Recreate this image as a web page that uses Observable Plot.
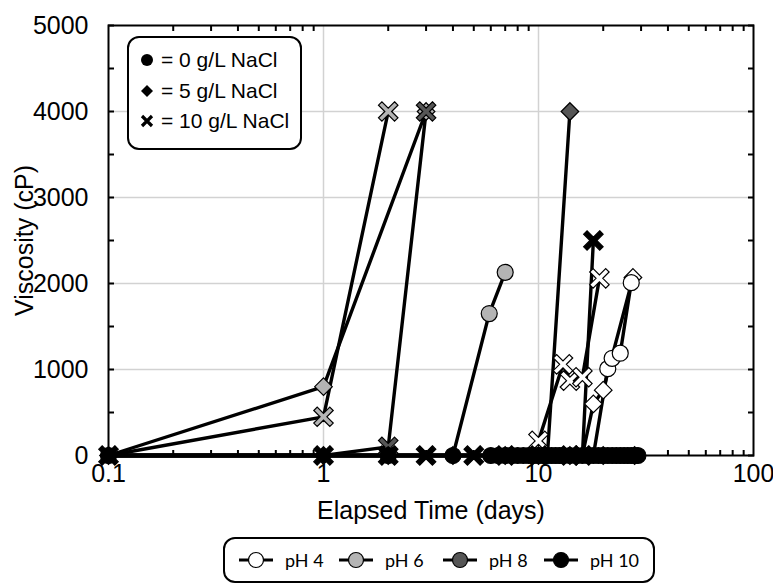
<!DOCTYPE html>
<html><head><meta charset="utf-8">
<script src="https://cdn.jsdelivr.net/npm/d3@7"></script>
<script src="https://cdn.jsdelivr.net/npm/@observablehq/plot@0.6"></script>
<style>
body{margin:0;background:#fff;font-family:"Liberation Sans",Arial,sans-serif;color:#000;}
#wrap{position:relative;width:773px;height:587px;overflow:hidden;}
#wrap svg.plot{position:absolute;left:0;top:0;}
.box{position:absolute;border:2px solid #000;border-radius:12px;background:#fff;box-sizing:border-box;}
#saltLegend{left:127px;top:36px;width:175px;height:114px;}
#saltLegend .row{position:absolute;left:10px;height:24px;display:flex;align-items:center;font-size:21px;white-space:nowrap;}
#saltLegend .row svg{margin-right:6px;}
#phLegend{left:223px;top:537px;width:432px;height:46px;}
#phLegend .item{position:absolute;top:8px;height:26px;display:flex;align-items:center;font-family:Lato,"Open Sans",sans-serif;font-size:18px;white-space:nowrap;}
#phLegend .item svg{margin-right:11px;}
</style></head><body><div id="wrap"></div>
<script>
// ---- data (elapsed days, viscosity cP) ----
const phLevels = ["pH 4", "pH 6", "pH 8", "pH 10"];
const phFills = ["#ffffff", "#b4b4b4", "#565656", "#000000"];
const saltLabels = ["= 0 g/L NaCl", "= 5 g/L NaCl", "= 10 g/L NaCl"];
const xTickValues = [0.1, 1, 10, 100];
const xTickLabels = ["0.1", "1", "10", "100"];
const yTickValues = [0, 1000, 2000, 3000, 4000, 5000];

// pH 4
const ph4_salt0_days = [0.1, 1, 2, 4, 7, 9, 11, 14, 16, 18, 21, 22, 24, 27];
const ph4_salt0_visc = [0, 0, 0, 0, 0, 0, 0, 0, 0, 0, 1010, 1130, 1190, 2010];
const ph4_salt5_days = [0.1, 1, 2, 4, 7, 9, 11, 14, 16, 18, 20, 27.5];
const ph4_salt5_visc = [0, 0, 0, 0, 0, 0, 0, 0, 0, 600, 760, 2070];
const ph4_salt10_days = [0.1, 1, 2, 3, 5, 7, 9, 10, 13, 14, 16, 19.2];
const ph4_salt10_visc = [0, 0, 0, 0, 0, 0, 0, 170, 1060, 870, 910, 2060];
// pH 6
const ph6_salt0_days = [0.1, 1, 2, 4, 5.9, 7];
const ph6_salt0_visc = [0, 0, 0, 0, 1650, 2130];
const ph6_salt5_days = [0.1, 1, 3];
const ph6_salt5_visc = [0, 800, 4000];
const ph6_salt10_days = [0.1, 1, 2];
const ph6_salt10_visc = [0, 450, 4000];
// pH 8
const ph8_salt0_days = [0.1, 1, 2, 4, 6, 8, 10, 12, 14, 17, 20, 23, 26, 28];
const ph8_salt0_visc = [0, 0, 0, 0, 0, 0, 0, 0, 0, 0, 0, 0, 0, 0];
const ph8_salt5_days = [0.1, 1, 2, 4, 6, 8, 10, 11, 14];
const ph8_salt5_visc = [0, 0, 0, 0, 0, 0, 0, 0, 4000];
const ph8_salt10_days = [0.1, 1, 2, 3];
const ph8_salt10_visc = [0, 0, 100, 4000];
// pH 10
const ph10_salt0_days = [0.1, 2, 4, 6, 6.5, 7, 7.5, 8, 8.5, 9, 9.5, 10, 10.5, 11, 11.5, 12, 12.5, 13, 14, 15, 16, 17, 18, 19, 20, 21, 22, 23, 24, 25, 26, 27, 28, 29];
const ph10_salt0_visc = ph10_salt0_days.map(() => 0);
const ph10_salt5_days = [0.1, 1, 2, 4, 7, 10, 14, 20, 28];
const ph10_salt5_visc = [0, 0, 0, 0, 0, 0, 0, 0, 0];
const ph10_salt10_days = [0.1, 1, 2, 3, 5, 7, 10, 14, 16, 18];
const ph10_salt10_visc = [0, 0, 0, 0, 0, 0, 0, 0, 0, 2500];

const seriesDefs = [
  ["pH 4", 0, ph4_salt0_days, ph4_salt0_visc], ["pH 4", 1, ph4_salt5_days, ph4_salt5_visc], ["pH 4", 2, ph4_salt10_days, ph4_salt10_visc],
  ["pH 6", 0, ph6_salt0_days, ph6_salt0_visc], ["pH 6", 1, ph6_salt5_days, ph6_salt5_visc], ["pH 6", 2, ph6_salt10_days, ph6_salt10_visc],
  ["pH 8", 0, ph8_salt0_days, ph8_salt0_visc], ["pH 8", 1, ph8_salt5_days, ph8_salt5_visc], ["pH 8", 2, ph8_salt10_days, ph8_salt10_visc],
  ["pH 10", 0, ph10_salt0_days, ph10_salt0_visc], ["pH 10", 1, ph10_salt5_days, ph10_salt5_visc], ["pH 10", 2, ph10_salt10_days, ph10_salt10_visc]
];

// ---- symbols ----
const symDiamond = {draw(ctx, size) {
  const d = Math.sqrt(size) * 0.62;
  ctx.moveTo(0, -d); ctx.lineTo(d, 0); ctx.lineTo(0, d); ctx.lineTo(-d, 0); ctx.closePath();
}};
const symX = {draw(ctx, size) {
  const a = Math.sqrt(size) * 0.8, t = Math.sqrt(size) * 0.17;
  const pts = [[-t,-a],[t,-a],[t,-t],[a,-t],[a,t],[t,t],[t,a],[-t,a],[-t,t],[-a,t],[-a,-t],[-t,-t]]
    .map(([x, y]) => [(x - y) * Math.SQRT1_2, (x + y) * Math.SQRT1_2]);
  ctx.moveTo(pts[0][0], pts[0][1]);
  for (let i = 1; i < pts.length; i++) ctx.lineTo(pts[i][0], pts[i][1]);
  ctx.closePath();
}};
const symbols = ["circle", symDiamond, symX];

const lineMarks = [], dotMarks = [];
for (const [ph, s, days, visc] of seriesDefs) {
  const rows = days.map((d, i) => ({day: d, visc: visc[i]}));
  lineMarks.push(Plot.line(rows, {x: "day", y: "visc", stroke: "#000", strokeWidth: 3.4}));
}
// markers: within a pH group, draw 10 g/L, then 5 g/L, then 0 g/L on top
for (const ph of phLevels) {
  const fill = phFills[phLevels.indexOf(ph)];
  for (const s of [2, 1, 0]) {
    const [, , days, visc] = seriesDefs.find(d => d[0] === ph && d[1] === s);
    const rows = days.map((d, i) => ({day: d, visc: visc[i]}));
    const shown = ph === "pH 10" ? rows : rows.filter(r => r.visc > 0);
    dotMarks.push(Plot.dot(shown, {x: "day", y: "visc", symbol: symbols[s], r: 8, fill, stroke: "#000", strokeWidth: 1.2}));
  }
}

const minorX = [];
for (const dec of [0.1, 1, 10]) for (let k = 2; k <= 9; k++) minorX.push(+(k * dec).toPrecision(3));
const yMinor = d3.range(0, 5001, 500);

const chart = Plot.plot({
  width: 773, height: 530,
  marginLeft: 108, marginRight: 20, marginTop: 25, marginBottom: 75,
  x: {type: "log", domain: [0.1, 100]},
  y: {domain: [0, 5000]},
  style: {fontFamily: "'Liberation Sans', Arial, sans-serif", fontSize: "26px", color: "#000", background: "transparent"},
  marks: [
    Plot.gridX([1, 10], {stroke: "#d2d2d2", strokeOpacity: 1, strokeWidth: 1.5}),
    Plot.gridY([1000, 2000, 3000, 4000], {stroke: "#d2d2d2", strokeOpacity: 1, strokeWidth: 1.5}),
    Plot.axisX(minorX, {anchor: "bottom", tickSize: -5, fill: "none", strokeWidth: 2}),
    Plot.axisX(minorX, {anchor: "top", tickSize: -5, fill: "none", strokeWidth: 2}),
    Plot.axisY(yMinor, {anchor: "left", tickSize: -6, fill: "none", strokeWidth: 2}),
    Plot.axisY(yMinor, {anchor: "right", tickSize: -6, fill: "none", strokeWidth: 2}),
    Plot.axisX(xTickValues, {anchor: "bottom", tickSize: 0, tickPadding: 9, fontSize: 25,
      tickFormat: d => xTickLabels[xTickValues.indexOf(d)],
      label: "Elapsed Time (days)", labelAnchor: "center", labelArrow: "none", labelOffset: 63}),
    Plot.axisY(yTickValues, {anchor: "left", tickSize: 0, tickPadding: 20, fontSize: 25, tickFormat: d => String(d),
      label: "Viscosity (cP)", labelAnchor: "center", labelArrow: "none", labelOffset: 93}),
    ...lineMarks,
    ...dotMarks,
    Plot.frame({stroke: "#000", strokeWidth: 2})
  ]
});
const wrap = document.getElementById("wrap");
wrap.appendChild(chart);

// ---- NaCl symbol legend (inside plot) ----
const salt = document.createElement("div");
salt.className = "box"; salt.id = "saltLegend";
const iconSvgs = [
  '<circle cx="8" cy="8" r="6" fill="#000"/>',
  '<path d="M8 2 L14 8 L8 14 L2 8 Z" fill="#000"/>',
  '<path d="M3 3 L13 13 M13 3 L3 13" stroke="#000" stroke-width="3.2"/>'
];
saltLabels.forEach((t, i) => {
  const row = document.createElement("div");
  row.className = "row";
  row.style.top = (10 + i * 30.5) + "px";
  row.innerHTML = `<svg width="16" height="16">${iconSvgs[i]}</svg><span>${t}</span>`;
  salt.appendChild(row);
});
wrap.appendChild(salt);

// ---- pH legend (below) ----
const phl = document.createElement("div");
phl.className = "box"; phl.id = "phLegend";
const itemLeft = [13, 113, 217, 318];
phLevels.forEach((p, i) => {
  const it = document.createElement("div");
  it.className = "item";
  it.style.left = itemLeft[i] + "px";
  it.innerHTML = `<svg width="36" height="18"><line x1="1" y1="9" x2="35" y2="9" stroke="#000" stroke-width="3"/><circle cx="18" cy="9" r="7.5" fill="${phFills[i]}" stroke="#000" stroke-width="1.2"/></svg><span>${p}</span>`;
  phl.appendChild(it);
});
wrap.appendChild(phl);
</script>
</body></html>
